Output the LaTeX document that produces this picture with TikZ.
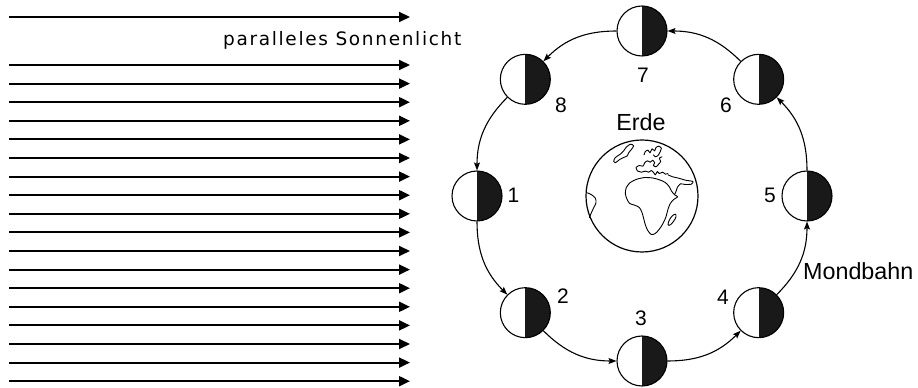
\documentclass[tikz,border=0pt]{standalone}
\usepackage{fontspec}
\setmainfont{Liberation Sans}
\newfontfamily\rayfont[LetterSpace=9]{DejaVu Sans}
\usetikzlibrary{arrows.meta,calc}

\tikzset{
  ray/.style={line width=2pt, -{Triangle[length=11pt,width=10pt]}},
  moon/.style={circle, draw, line width=1.1pt, minimum size=50pt, inner sep=0pt,
    fill=white,
    path picture={\fill[black!90] (path picture bounding box.north)
      rectangle (path picture bounding box.south east);}},
  orbit/.style={line width=1.1pt, -{Stealth[length=8pt,width=6pt,inset=1.5pt]},
    bend right=22.5},
  num/.style={font=\fontsize{21}{21}\selectfont, anchor=base, inner sep=0pt},
  caption/.style={font=\fontsize{23.3}{24}\selectfont, inner sep=0pt},
  coast/.style={line width=0.9pt, line join=round, line cap=round},
  globe/.style={circle, draw, line width=1.2pt, minimum size=112pt, inner sep=0pt},
}

\begin{document}
\begin{tikzpicture}[x=1pt,y=1pt]
  \useasboundingbox (0,0) rectangle (918,388);

  % parallel sunlight
  \draw[ray] (9,371) -- (410,371);
  \foreach \k in {0,...,17}{
    \draw[ray] (9,{323-18.6*\k}) -- (410,{323-18.6*\k});
  }
  \node[anchor=base west, inner sep=0pt, font=\rayfont\fontsize{18.5}{19}\selectfont]
    (light) at (223,342.3) {paralleles Sonnenlicht};

  % orbit centre and the Earth
  \coordinate (C) at (642,192);
  \node[globe] (earth) at (C) {};
  \node[caption, anchor=base] (erde) at (641,257.3) {Erde};

  \begin{scope}[shift={(582,250.5)}, x=0.3333pt, y=-0.3333pt]
    % Africa
    \draw[coast] plot[smooth cycle, tension=0.5] coordinates {
      (133,150) (145,135) (165,125) (190,120) (215,122) (235,128) (250,135)
      (262,148) (268,160) (278,172) (287,178) (275,186) (265,198) (258,215)
      (252,238) (243,258) (232,275) (220,288) (208,291) (198,280) (190,262)
      (185,243) (180,225) (172,210) (158,203) (143,198) (135,185) (130,168)};
    % Madagascar
    \draw[coast] plot[smooth cycle, tension=0.6] coordinates {
      (258,262) (262,248) (270,236) (280,230) (282,238) (275,251) (265,262)};
    % Europe, Mediterranean coast
    \draw[coast] plot[smooth, tension=0.4] coordinates {
      (166,100) (162,90) (172,84) (183,86) (188,76) (196,70) (205,74) (212,68)
      (218,76) (214,84) (222,88) (230,80) (236,72) (232,62) (240,58)};
    \draw[coast] plot[smooth, tension=0.4] coordinates {
      (166,100) (178,104) (190,101) (200,104) (208,99) (214,104) (220,112)
      (226,102) (232,108) (242,104) (250,110) (258,108)};
    % Scandinavia
    \draw[coast] plot[smooth, tension=0.4] coordinates {
      (186,52) (190,42) (198,38) (204,46) (210,34) (218,40) (222,30) (230,26)
      (238,32) (234,44) (228,54) (220,58) (214,52)};
    % Greenland / Iceland
    \draw[coast] plot[smooth cycle, tension=0.5] coordinates {
      (95,72) (100,60) (115,50) (125,40) (132,30) (145,20) (155,25) (148,36)
      (140,46) (135,56) (125,60) (113,66) (100,76)};
    % Near East coastline
    \draw[coast] plot[smooth, tension=0.4] coordinates {
      (258,112) (272,118) (290,122) (310,128) (333,132) (328,140) (310,141)
      (295,139) (286,150) (282,162) (278,170)};
    % South America
    \draw[coast] plot[smooth, tension=0.5] coordinates {
      (16,166) (29,172) (40,182) (42,196) (35,211) (28,226) (22,240)};
  \end{scope}

  % Moon positions along the orbit
  \foreach \i/\a in {1/180,2/225,3/270,4/315,5/0,6/45,7/90,8/135}{
    \node[moon] (m\i) at ($(C)+(\a:165)$) {};
  }

  % Moon's orbit
  \draw[orbit] (m1) to (m2);
  \draw[orbit] (m2) to (m3);
  \draw[orbit] (m3) to (m4);
  \draw[orbit] (m4) to (m5);
  \draw[orbit] (m5) to (m6);
  \draw[orbit] (m6) to (m7);
  \draw[orbit] (m7) to (m8);
  \draw[orbit] (m8) to (m1);

  % phase numbers
  \node[num] (l1) at (513.5,185) {1};
  \node[num] (l2) at (563,84) {2};
  \node[num] (l3) at (641,62) {3};
  \node[num] (l4) at (723,83) {4};
  \node[num] (l5) at (770,185) {5};
  \node[num] (l6) at (726,275) {6};
  \node[num] (l7) at (643,305) {7};
  \node[num] (l8) at (561,275) {8};

  \node[caption, anchor=base west] (bahn) at (803,108) {Mondbahn};
\end{tikzpicture}
\end{document}
